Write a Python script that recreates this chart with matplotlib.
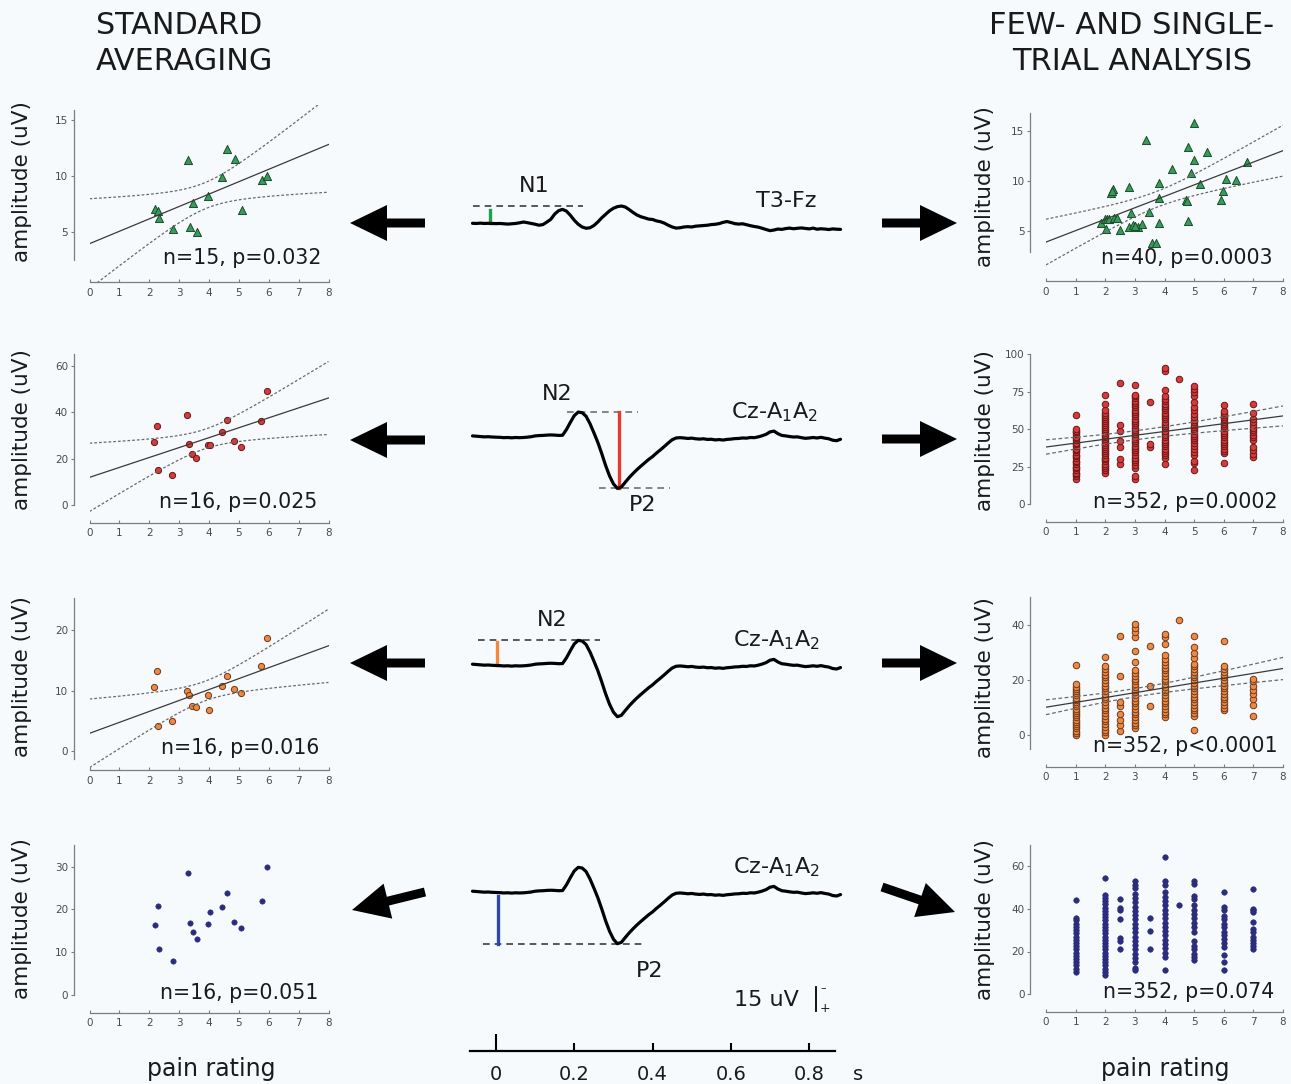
import numpy as np
import matplotlib
matplotlib.use("Agg")
import matplotlib.pyplot as plt
from matplotlib.patches import FancyArrow

plt.rcParams['font.family'] = ['DejaVu Sans']
plt.rcParams['mathtext.fontset'] = 'dejavusans'

# ------------------------------------------------------------------ data
X_TICKS = list(range(9))

# standard averaging (one point per subject)
L1_X = [2.19, 2.29, 2.34, 2.79, 3.30, 3.37, 3.48, 3.60, 3.98, 4.44, 4.61, 4.86, 5.09, 5.76, 5.95]
L1_Y = [7.05, 6.90, 6.25, 5.27, 11.44, 5.42, 7.58, 5.03, 8.20, 9.87, 12.45, 11.56, 6.99, 9.60, 10.00]

L2_X = [2.17, 2.27, 2.30, 2.76, 3.27, 3.34, 3.43, 3.58, 3.96, 4.02, 4.42, 4.59, 4.83, 5.08, 5.75, 5.94]
L2_Y = [27.1, 34.1, 15.3, 13.0, 38.7, 26.4, 22.2, 20.5, 25.9, 25.9, 31.4, 36.4, 27.4, 25.2, 36.2, 49.0]

L3_X = [2.17, 2.27, 2.30, 2.76, 3.28, 3.34, 3.43, 3.58, 3.95, 4.00, 4.42, 4.59, 4.83, 5.08, 5.75, 5.93]
L3_Y = [10.55, 13.24, 4.23, 4.95, 9.89, 9.23, 7.42, 7.25, 9.23, 6.81, 10.77, 12.42, 10.22, 9.56, 14.07, 18.74]

L4_X = [2.20, 2.30, 2.33, 2.78, 3.29, 3.37, 3.47, 3.60, 3.97, 4.02, 4.43, 4.60, 4.85, 5.08, 5.76, 5.95]
L4_Y = [16.4, 20.7, 10.8, 8.0, 28.6, 16.9, 14.8, 13.2, 16.6, 19.3, 20.6, 23.8, 17.0, 15.7, 22.0, 30.0]

# few-trial analysis (N1)
R1_X = [1.84, 1.99, 2.01, 2.05, 2.11, 2.19, 2.26, 2.30, 2.39, 2.51, 2.79, 2.80, 2.87, 2.95,
        3.10, 3.24, 3.36, 3.49, 3.59, 3.72, 3.81, 3.81, 3.82, 4.27, 4.72, 4.76, 4.79, 4.81,
        4.89, 5.00, 5.00, 5.19, 5.42, 5.90, 5.99, 6.08, 6.40, 6.78, 2.22, 3.00]
R1_Y = [5.76, 6.16, 5.23, 6.20, 6.16, 8.82, 9.15, 6.33, 6.26, 5.10, 9.35, 5.40, 6.76, 5.56,
        5.43, 5.70, 14.07, 6.93, 3.77, 3.77, 9.75, 8.26, 5.76, 11.15, 8.09, 7.95, 13.34, 5.96,
        10.81, 15.73, 12.08, 9.68, 12.90, 8.09, 9.02, 10.18, 10.12, 11.84, 8.95, 5.50]

# single-trial analysis: amplitudes grouped by pain rating
R2_COLS = {
    1: [17, 18.5, 20, 21, 22.5, 24, 25, 26.5, 28, 29, 30.5, 32, 33, 34.5, 36, 37, 38.5, 40, 41,
        42.5, 44, 45, 46.5, 48, 49, 50, 59.5],
    2: [21, 22.5, 24, 25.5, 27, 28.5, 30, 31, 32.5, 34, 35.5, 37, 38, 39.5, 41, 42, 43.5, 45, 46,
        47.5, 49, 50, 51.5, 53, 54, 55.5, 57, 58, 59.5, 61, 62.5, 67, 73],
    2.5: [26.5, 30, 38, 42, 49, 52.5, 81],
    3: [17, 19, 24, 26, 28, 29.5, 31, 33, 34.5, 36, 37.5, 39, 40.5, 42, 43.5, 45, 46.5, 48, 49.5,
        51, 52.5, 54, 55.5, 57, 58.5, 60, 61.5, 63, 64.5, 66, 67.5, 69, 70.5, 72, 73, 79.5],
    3.5: [38, 40, 68],
    4: [27, 31, 32.5, 34, 35.5, 37, 38.5, 40, 41.5, 43, 44.5, 46, 47.5, 49, 50.5, 52, 53.5, 55,
        56.5, 58, 59.5, 61, 62.5, 64, 65.5, 67, 68.5, 70, 72, 76, 88.5, 90.5],
    4.5: [83.5],
    5: [23, 27.5, 29, 33, 35, 37, 39, 41, 42.5, 44, 45.5, 47, 48.5, 50, 51.5, 53, 54.5, 56, 58,
        60, 63, 65, 68, 72, 75, 77, 78.5],
    6: [27.5, 34, 35.5, 37, 38.5, 40, 41.5, 43, 44.5, 46, 47.5, 49, 50.5, 52, 53.5, 55, 56.5, 58,
        59.5, 61, 62, 66],
    7: [31.5, 33.5, 36, 38, 43, 44.5, 46, 48, 49.5, 51, 53, 55, 57, 61, 67],
}
R2_FIT = (38.0, 2.59)          # intercept, slope
R2_BAND = (3.0, 1.21, 3.1)     # min half-width, growth, centre

R3_COLS = {
    1: [0, 0.8, 1.6, 2.4, 3.2, 4, 4.8, 5.6, 6.4, 7.2, 8, 8.8, 9.6, 10.4, 11.2, 12, 12.8, 13.6,
        14.4, 15.2, 16, 16.8, 17.6, 18.5, 25.5],
    2: [0, 1, 2, 3, 4, 5, 6, 7, 8, 9, 10, 11, 12, 13, 14, 15, 16, 17, 18, 19, 20, 21, 22, 23,
        24, 25, 28.3],
    2.5: [1.5, 3.5, 5.5, 7.5, 10.5, 12, 21.5, 36],
    3: [2.5, 3.5, 4.5, 5.5, 6.5, 7.5, 8.5, 9.5, 10.5, 11.5, 12.5, 13.5, 14.5, 15.5, 16.5, 17.5,
        18.5, 19.5, 20.5, 21.5, 22.5, 23.5, 26.5, 30.5, 35.5, 37.5, 39, 40.3],
    3.5: [10.5, 18, 32.5],
    4: [6.5, 7.5, 8.5, 9.5, 10.5, 11.5, 12.5, 13.5, 14.5, 15.5, 16.5, 17.5, 18.5, 19.5, 20.5,
        21.5, 22.5, 23.5, 24.5, 25.5, 26.5, 27.5, 29, 33, 35.5, 36.7],
    4.5: [42],
    5: [2, 7, 8, 9, 10, 11, 12, 13, 14, 15, 16, 17, 18, 19, 20, 21, 22, 23, 24, 25, 26, 28, 30,
        32, 36],
    6: [9, 10, 11, 12, 13, 14, 15, 16, 17, 18, 19, 20, 21, 22, 23, 24, 25, 34.3],
    7: [7, 11, 13, 15, 16.5, 18, 19.5, 20.5],
}
R3_FIT = (10.1, 1.76)
R3_BAND = (1.5, 0.75, 3.0)

R4_COLS = {
    1: [10.5, 12, 13.5, 15, 16.5, 18, 19.5, 21, 22.5, 24, 25.5, 27, 28.5, 30, 31.5, 33, 34.5,
        35.5, 44],
    2: [9, 10.5, 12, 13.5, 15, 16.5, 18, 19.5, 21, 22.5, 24, 25.5, 27, 28.5, 30, 31.5, 33, 34.5,
        36, 37.5, 39, 40.5, 42, 43.5, 45, 46.5, 54.5],
    2.5: [21, 25, 26.5, 35, 39.5, 40.5, 44.5],
    3: [11.5, 12.5, 15, 17, 19, 21, 23, 25, 27, 29, 31, 33, 35, 37, 39, 41, 43, 45, 47, 49.5,
        51, 53],
    3.5: [21, 29.5, 35.5],
    4: [11.5, 17.5, 19.5, 21.5, 23.5, 25.5, 27.5, 29.5, 31.5, 33.5, 35.5, 37.5, 39.5, 41.5,
        43.5, 45.5, 48, 51, 53, 64],
    4.5: [41.7],
    5: [16, 17.5, 19, 21, 22.5, 25, 29, 31.5, 33.5, 35.5, 37.5, 39.5, 41.5, 44.5, 46, 51.5, 53],
    6: [11.5, 15, 18.5, 22, 24, 26, 27.5, 29, 31.5, 33, 35, 36.5, 39.5, 41, 48],
    7: [21, 22.5, 24, 25.5, 27, 29, 30.5, 34, 38.5, 39.5, 40, 49],
}

T_CRIT = {13: 2.160, 14: 2.145, 38: 2.024}

STATS_LEFT = ["n=15, p=0.032", "n=16, p=0.025", "n=16, p=0.016", "n=16, p=0.051"]
STATS_RIGHT = ["n=40, p=0.0003", "n=352, p=0.0002", "n=352, p<0.0001", "n=352, p=0.074"]

# grand-average ERP waveforms (uV, negative plotted upward), 10 ms steps
ERP_T = np.round(np.arange(-0.06, 0.8801, 0.01), 2)
ERP_T3FZ = [0.0, 0.1, -0.1, 0.1, 0.0, 0.1,
            0.2, 0.1, 0.3, 0.5, 0.3, 0.1, -0.3, -0.8, -0.4, 0.1,
            0.6, 1.2, 0.8, -0.8, -2.5, -5.8, -7.9, -8.7, -7.6, -5.0,
            -1.9, 0.6, 2.3, 3.1, 2.8, 1.4, -0.8, -3.4, -5.6, -7.8,
            -9.4, -10.4, -10.8, -10.2, -8.6, -6.8, -5.2, -4.1, -3.4, -2.6,
            -2.4, -1.5, -1.0, -0.1, 1.2, 2.3, 3.0, 2.8, 2.3, 2.1,
            2.3, 1.8, 1.6, 1.4, 1.2, 0.8, 0.6, 0.2, -0.6, -1.1,
            -0.5, 0.2, 0.5, 0.3, 0.9, 1.5, 2.0, 2.4, 3.1, 3.9,
            4.6, 4.2, 3.6, 3.8, 3.3, 3.0, 3.4, 3.1, 2.9, 3.2,
            3.5, 3.0, 3.7, 3.4, 3.6, 3.9, 3.5, 3.7, 3.8]
ERP_CZ = [-0.5, -0.3, -0.1, 0.1, 0.0, 0.2,
          0.3, 0.4, 0.6, 0.5, 0.7, 0.5, 0.6, 0.5, 0.3, 0.0,
          -0.5, -0.7, -0.8, -1.0, -1.1, -1.0, -0.8, -0.9, -4.5, -9.0,
          -13.2, -15.4, -15.0, -12.8, -8.2, -2.5, 3.5, 10.5, 18.0, 24.5,
          29.5, 32.3, 31.5, 28.5, 25.6, 23.0, 20.6, 18.4, 16.3, 14.2,
          12.4, 10.2, 8.2, 6.1, 3.9, 1.9, 0.8, 0.6, 0.8, 1.1,
          0.9, 1.3, 1.5, 1.3, 1.7, 1.6, 2.0, 1.8, 2.1, 1.7,
          1.5, 1.2, 1.1, 0.8, 0.9, 0.5, 0.6, 0.1, -0.6, -1.5,
          -3.0, -3.5, -1.9, -0.8, -0.5, -0.1, 0.2, 0.1, 0.6, 1.0,
          0.8, 0.5, 0.8, 0.4, 0.9, 1.3, 2.2, 2.5, 1.6]
TIME_TICKS = [0, 0.2, 0.4, 0.6, 0.8]
TIME_LABELS = ["0", "0.2", "0.4", "0.6", "0.8"]
SCALE_BAR_UV = 15

# ------------------------------------------------------------------ layout
W, H = 1291, 1084
BG = '#f6fafd'
fig = plt.figure(figsize=(W / 100, H / 100), dpi=100)
fig.patch.set_facecolor(BG)


def px_axes(l, t, r, b):
    ax = fig.add_axes([l / W, 1 - b / H, (r - l) / W, (b - t) / H])
    ax.set_facecolor('none')
    return ax


GREEN = dict(marker='^', s=34, c='#3a9a5c', edgecolors='#184d2a', linewidths=0.7, zorder=3)
RED = dict(marker='o', s=20, c='#d23c3c', edgecolors='#6e1515', linewidths=0.7, zorder=3)
ORANGE = dict(marker='o', s=20, c='#ec8a45', edgecolors='#70381a', linewidths=0.7, zorder=3)
BLUE = dict(marker='o', s=15, c='#2b2d7c', edgecolors='#2b2d7c', linewidths=0.4, zorder=3)

AX_COL = '#7d7d7d'
TXT_COL = '#4a4a4a'


def ols_band(x, y, xs):
    x = np.asarray(x, float)
    y = np.asarray(y, float)
    n = len(x)
    xb = x.mean()
    sxx = ((x - xb) ** 2).sum()
    b1 = ((x - xb) * (y - y.mean())).sum() / sxx
    b0 = y.mean() - b1 * xb
    s = np.sqrt(((y - (b0 + b1 * x)) ** 2).sum() / (n - 2))
    fit = b0 + b1 * xs
    hw = T_CRIT[n - 2] * s * np.sqrt(1 / n + (xs - xb) ** 2 / sxx)
    return fit, fit - hw, fit + hw


def param_band(fit, band, xs):
    b0, b1 = fit
    h0, k, xm = band
    f = b0 + b1 * xs
    hw = np.sqrt(h0 ** 2 + (k * (xs - xm)) ** 2)
    return f, f - hw, f + hw


def cols_to_xy(cols):
    xs, ys = [], []
    for k, vals in cols.items():
        xs += [k] * len(vals)
        ys += list(vals)
    return xs, ys


def scatter_panel(xpx, geom, x, y, style, lines=None, ci_dash=(0, (2.2, 1.6))):
    top, axis_y, ref_v, ref_px, ppu, s_lo, s_hi, ticks = geom
    ax = px_axes(xpx[0], top, xpx[1], axis_y)
    ax.set_xlim(0, 8)
    ax.set_ylim(ref_v - (axis_y - ref_px) / ppu, ref_v + (ref_px - top) / ppu)
    for s in ('top', 'right'):
        ax.spines[s].set_visible(False)
    for s in ('left', 'bottom'):
        ax.spines[s].set_color(AX_COL)
        ax.spines[s].set_linewidth(0.9)
    ax.spines['left'].set_position(('outward', 16 * 0.72))
    ax.spines['left'].set_bounds(s_lo, s_hi)
    ax.spines['bottom'].set_bounds(0, 8)
    ax.set_xticks(X_TICKS)
    ax.set_yticks(ticks)
    ax.tick_params(axis='y', direction='out', length=2.5, width=0.8, color=AX_COL,
                   labelsize=7.5, labelcolor=TXT_COL, pad=1.5)
    ax.tick_params(axis='x', direction='in', length=2.5, width=0.8, color=AX_COL,
                   labelsize=7.5, labelcolor=TXT_COL, pad=4.0)
    ax.scatter(x, y, **style)
    if lines is not None:
        xs = np.linspace(0, 8, 200)
        f, lo, hi = lines(xs)
        ax.plot(xs, f, color='#3a3a3a', lw=0.9, zorder=4)
        ax.plot(xs, lo, color='#6a6a6a', lw=0.9, ls=ci_dash, zorder=4)
        ax.plot(xs, hi, color='#6a6a6a', lw=0.9, ls=ci_dash, zorder=4)
    return ax


LEFT_XPX = (89.5, 328.5)
RIGHT_XPX = (1046, 1283)

# geometry: top px, x-axis px, reference value, its px, px per unit, spine lo, spine hi, ticks
G_L = [(105, 282, 5, 232, 11.2, 2.5, 15.9, [5, 10, 15]),
       (345, 522.7, 0, 505.3, 2.33, 0, 65, [0, 20, 40, 60]),
       (590, 770, 0, 751.3, 6.07, -1.2, 25.2, [0, 10, 20]),
       (835, 1012.7, 0, 995, 4.277, 0, 35, [0, 10, 20, 30])]
G_R = [(105, 281, 5, 231, 10.03, 2.9, 16.8, [5, 10, 15]),
       (345, 521.7, 0, 504, 1.5, 0, 100, [0, 25, 50, 75, 100]),
       (590, 766.7, 0, 735, 2.75, -5, 50.2, [0, 20, 40]),
       (835, 1011.7, 0, 994.3, 2.14, 0, 69.8, [0, 20, 40, 60])]

scatter_panel(LEFT_XPX, G_L[0], L1_X, L1_Y, GREEN, lambda xs: ols_band(L1_X, L1_Y, xs))
scatter_panel(LEFT_XPX, G_L[1], L2_X, L2_Y, RED, lambda xs: ols_band(L2_X, L2_Y, xs))
scatter_panel(LEFT_XPX, G_L[2], L3_X, L3_Y, ORANGE, lambda xs: ols_band(L3_X, L3_Y, xs))
scatter_panel(LEFT_XPX, G_L[3], L4_X, L4_Y, BLUE)

scatter_panel(RIGHT_XPX, G_R[0], R1_X, R1_Y, GREEN, lambda xs: ols_band(R1_X, R1_Y, xs))
r2x, r2y = cols_to_xy(R2_COLS)
scatter_panel(RIGHT_XPX, G_R[1], r2x, r2y, dict(RED, s=22),
              lambda xs: param_band(R2_FIT, R2_BAND, xs), ci_dash=(0, (3, 2)))
r3x, r3y = cols_to_xy(R3_COLS)
scatter_panel(RIGHT_XPX, G_R[2], r3x, r3y, dict(ORANGE, s=22),
              lambda xs: param_band(R3_FIT, R3_BAND, xs), ci_dash=(0, (3, 2)))
r4x, r4y = cols_to_xy(R4_COLS)
scatter_panel(RIGHT_XPX, G_R[3], r4x, r4y, dict(BLUE, s=16))

# ------------------------------------------------------------------ ERP traces
T_LPX, T_RPX, T0_PX, PX_PER_S, PX_PER_UV = 466, 846, 496, 391.5, 1.6


def tpx(px):
    return (px - T0_PX) / PX_PER_S


def trace_axes(baseline, top, bottom):
    ax = px_axes(T_LPX, top, T_RPX, bottom)
    ax.set_xlim(tpx(T_LPX), tpx(T_RPX))
    ax.set_ylim((bottom - baseline) / PX_PER_UV, -(baseline - top) / PX_PER_UV)
    ax.axis('off')
    return ax


t = ERP_T
t3 = np.array(ERP_T3FZ)
cz = np.array(ERP_CZ)
n1_peak = t3[(t > 0.12) & (t < 0.22)].min()
n2_peak = cz.min()
p2_peak = cz.max()
DASH = dict(color='#3c3c3c', lw=1.2, ls=(0, (4, 3)))
BAR_LW = 2.4

# row 1: T3-Fz, N1
a1 = trace_axes(223.3, 150, 300)
a1.plot([tpx(473), tpx(583)], [t3.min(), t3.min()], **DASH)
a1.plot([tpx(490), tpx(490)], [-0.3, n1_peak + 0.4], color='#22a050', lw=BAR_LW)
a1.plot(t, t3, color='black', lw=2.3, solid_capstyle='round', solid_joinstyle='round')

# row 2: Cz, N2-P2
a2 = trace_axes(436.7, 360, 520)
a2.plot([tpx(567), tpx(638)], [n2_peak, n2_peak], color='#707070', lw=1.2, ls=(0, (4, 3)))
a2.plot([tpx(599), tpx(670)], [p2_peak, p2_peak], color='#707070', lw=1.2, ls=(0, (4, 3)))
a2.plot([tpx(619), tpx(619)], [n2_peak, p2_peak], color='#e8392c', lw=BAR_LW)
a2.plot(t, cz, color='black', lw=2.3, solid_capstyle='round', solid_joinstyle='round')

# row 3: Cz, N2
a3 = trace_axes(665, 590, 760)
a3.plot([tpx(478), tpx(600)], [n2_peak, n2_peak], **DASH)
a3.plot([tpx(497), tpx(497)], [0, n2_peak + 0.8], color='#f08a3a', lw=BAR_LW)
a3.plot(t, cz, color='black', lw=2.3, solid_capstyle='round', solid_joinstyle='round')

# row 4: Cz, P2
a4 = trace_axes(892, 820, 1025)
a4.plot([tpx(483), tpx(642)], [p2_peak, p2_peak], **DASH)
a4.plot([tpx(498), tpx(498)], [2.8, p2_peak], color='#2d48a8', lw=BAR_LW)
a4.plot(t, cz, color='black', lw=2.3, solid_capstyle='round', solid_joinstyle='round')
bar_top = (987 - 892) / PX_PER_UV
a4.plot([tpx(816), tpx(816)], [bar_top, bar_top + SCALE_BAR_UV], color='black', lw=1.3)

# time axis
tax = px_axes(T_LPX, 1000, T_RPX, 1050.7)
tax.set_xlim(tpx(T_LPX), tpx(T_RPX))
for s in ('top', 'right', 'left'):
    tax.spines[s].set_visible(False)
tax.spines['bottom'].set_linewidth(1.6)
tax.spines['bottom'].set_bounds(tpx(470), tpx(835))
tax.set_yticks([])
tax.set_xticks(TIME_TICKS)
tax.set_xticklabels(TIME_LABELS)
tax.tick_params(axis='x', direction='in', length=8 * 0.72, width=1.5, labelsize=14, pad=10,
                labelcolor='#1a1a1a')
tax.xaxis.get_major_ticks()[0].tick1line.set_markersize(17 * 0.72)

# ------------------------------------------------------------------ overlay (text, arrows)
ov = fig.add_axes([0, 0, 1, 1])
ov.set_xlim(0, W)
ov.set_ylim(H, 0)
ov.axis('off')
ov.set_facecolor('none')

TC = '#1a1a1a'
ov.text(96, 26, "STANDARD", fontsize=21.8, ha='left', va='center', color=TC)
ov.text(96, 61, "AVERAGING", fontsize=21.8, ha='left', va='center', color=TC)
ov.text(1132, 26, "FEW- AND SINGLE-", fontsize=22, ha='center', va='center', color=TC)
ov.text(1132, 62, "TRIAL ANALYSIS", fontsize=22, ha='center', va='center', color=TC)

for yc in (182, 430, 677, 919):
    ov.text(22, yc, "amplitude (uV)", fontsize=15.5, rotation=90, ha='center', va='center', color=TC)
for yc in (187, 431, 678, 920):
    ov.text(985, yc, "amplitude (uV)", fontsize=15.5, rotation=90, ha='center', va='center', color=TC)

for (xc, yc), s in zip([(242, 258), (238, 502), (240, 748), (239, 993)], STATS_LEFT):
    ov.text(xc, yc, s, fontsize=14.8, ha='center', va='center', color=TC)
for (xc, yc), s in zip([(1187, 258), (1185, 502), (1185, 746), (1189, 992)], STATS_RIGHT):
    ov.text(xc, yc, s, fontsize=14.8, ha='center', va='center', color=TC)

ov.text(211, 1069, "pain rating", fontsize=17, ha='center', va='center', color=TC)
ov.text(1165, 1069, "pain rating", fontsize=17, ha='center', va='center', color=TC)

LAB = dict(fontsize=16, ha='center', va='center', color=TC)
ov.text(534, 186, "N1", **LAB)
ov.text(786, 201, "T3-Fz", **LAB)
ov.text(557, 394, "N2", **LAB)
ov.text(643, 505, "P2", **LAB)
ov.text(774, 412, "Cz-A$_1$A$_2$", **LAB)
ov.text(552, 620, "N2", **LAB)
ov.text(776, 640, "Cz-A$_1$A$_2$", **LAB)
ov.text(776, 867, "Cz-A$_1$A$_2$", **LAB)
ov.text(650, 971, "P2", **LAB)
ov.text(766, 1000, "15 uV", **LAB)
ov.text(823, 988, "\u2013", fontsize=8, ha='center', va='center', color=TC)
ov.text(825, 1008, "+", fontsize=9, ha='center', va='center', color=TC)
ov.text(858, 1074, "s", fontsize=14, ha='center', va='center', color=TC)

ARROWS = [((425, 223), (350, 223)), ((882, 223), (957, 223)),
          ((425, 440), (350, 440)), ((882, 439), (957, 439)),
          ((425, 663), (350, 663)), ((882, 663), (957, 663)),
          ((425, 892), (352, 910)), ((882, 887), (955, 912))]
for (x0, y0), (x1, y1) in ARROWS:
    ov.add_patch(FancyArrow(x0, y0, x1 - x0, y1 - y0, width=9, head_width=36, head_length=37,
                            length_includes_head=True, color='black', lw=0))

fig.savefig("out.png", dpi=100, facecolor=BG)
